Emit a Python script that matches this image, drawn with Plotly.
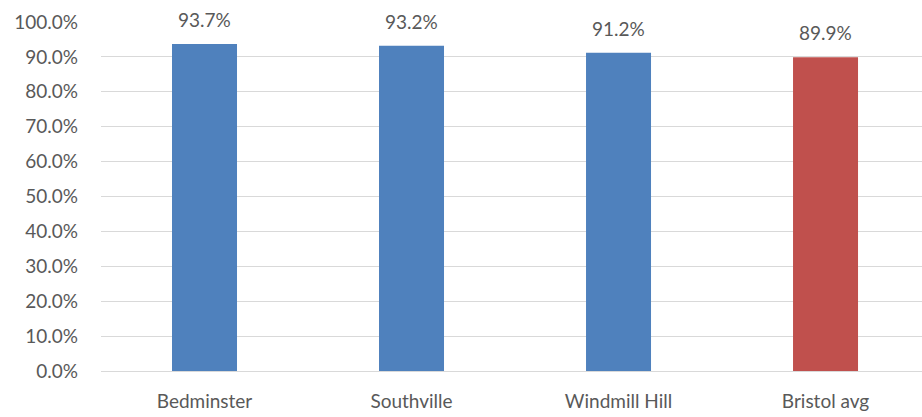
import plotly.graph_objects as go

# Share of residents, by area
areas = ["Bedminster", "Southville", "Windmill Hill", "Bristol avg"]
values = [0.937, 0.932, 0.912, 0.899]
bar_colors = ["#4F81BD", "#4F81BD", "#4F81BD", "#C0504D"]
y_ticks = [i / 10 for i in range(11)]
y_tick_labels = [f"{v * 100:.1f}%" for v in y_ticks]

font_family = "Lato, 'Open Sans', sans-serif"
text_color = "#595959"
font_size = 19

fig = go.Figure()
fig.add_trace(go.Bar(
    x=list(range(len(areas))),
    y=values,
    marker=dict(color=bar_colors, line=dict(width=0)),
    width=0.314,
    hoverinfo="skip",
))

# Value labels above each bar
for i, v in enumerate(values):
    fig.add_annotation(
        x=i, y=v, text=f"{v * 100:.1f}%",
        showarrow=False, yanchor="bottom", yshift=11,
        font=dict(family=font_family, size=font_size, color=text_color),
    )

fig.update_layout(
    width=922, height=417,
    margin=dict(l=101, r=0, t=22, b=46),
    paper_bgcolor="white", plot_bgcolor="white",
    showlegend=False,
    font=dict(family=font_family, size=font_size, color=text_color),
)
fig.update_xaxes(
    range=[-0.5, 3.466],
    tickmode="array", tickvals=list(range(len(areas))), ticktext=areas,
    showgrid=False, showline=False, zeroline=False,
    ticks="", ticklabelstandoff=17,
    tickfont=dict(family=font_family, size=font_size, color=text_color),
)
fig.update_yaxes(
    range=[0, 1.0],
    tickmode="array", tickvals=y_ticks, ticktext=y_tick_labels,
    showgrid=True, gridcolor="#D9D9D9", gridwidth=1.3,
    zeroline=True, zerolinecolor="#D9D9D9", zerolinewidth=1.3,
    showline=False, ticks="", ticklabelstandoff=22,
    tickfont=dict(family=font_family, size=font_size, color=text_color),
)

fig.write_html("out.html")
